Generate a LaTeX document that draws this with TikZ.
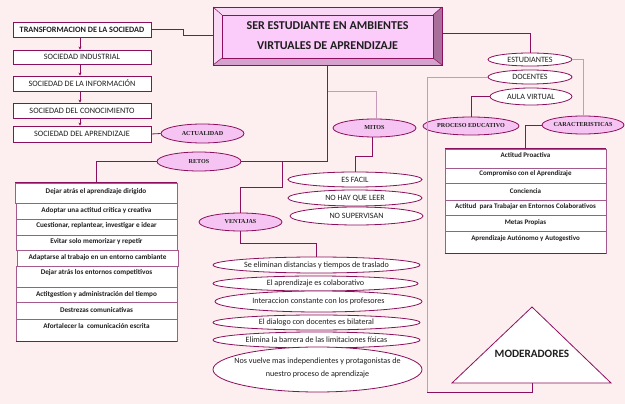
\documentclass[tikz,border=0pt]{standalone}
\usepackage{fontspec}
\setmainfont{Carlito}
\newfontfamily\serifb{Liberation Serif}
\usetikzlibrary{arrows.meta,shapes.geometric}
\definecolor{bg}{HTML}{FDEEF0}
\definecolor{dk}{HTML}{8B0F5C}
\definecolor{md}{HTML}{A45A8C}
\definecolor{lt}{HTML}{C69AB8}
\definecolor{pk}{HTML}{F6C4F2}
\definecolor{face}{HTML}{FBCBF9}
\definecolor{bvtop}{HTML}{F8D8F4}
\definecolor{bvright}{HTML}{A8709A}
\definecolor{bvbot}{HTML}{D4A2CC}
\definecolor{txt}{HTML}{1E1E1E}
\tikzset{
  conn/.style={draw=dk, line width=0.8pt},
  connl/.style={draw=lt, line width=0.8pt},
  sbox/.style={draw=dk, fill=white, line width=0.8pt, rectangle, inner sep=0pt,
    minimum width=138pt, text=txt, font=\fontsize{8.2}{9}\selectfont},
  lbox/.style={draw=md, fill=white, line width=0.7pt, rectangle, inner sep=0pt},
  itemtxt/.style={text=txt, font=\bfseries\fontsize{7.2}{8}\selectfont, inner sep=0pt},
  pell/.style={ellipse, draw=dk, fill=pk, line width=0.8pt, inner sep=0pt},
  pelltxt/.style={text=txt, font=\serifb\bfseries\fontsize{6.1}{7}\selectfont, inner sep=0pt},
  well/.style={ellipse, draw=dk, fill=white, line width=0.8pt, inner sep=0pt},
  welltxt/.style={text=txt, font=\fontsize{8.1}{9}\selectfont, inner sep=0pt, align=center},
  arr/.style={draw=dk, line width=0.8pt, -{Stealth[length=3pt,width=3pt]}}
}
\begin{document}
\begin{tikzpicture}[x=1pt,y=-1pt]
\path[fill=bg,use as bounding box] (0,0) rectangle (625,404);

% ---- title (beveled) ----
\fill[bvtop] (213,7) -- (442,7) -- (433,15) -- (222,15) -- cycle;
\fill[bvtop] (213,7) -- (222,15) -- (222,58) -- (213,65) -- cycle;
\fill[bvright] (442,7) -- (442,65) -- (433,58) -- (433,15) -- cycle;
\fill[bvbot] (213,65) -- (442,65) -- (433,58) -- (222,58) -- cycle;
\draw[dk,line width=0.5pt] (213,7) -- (222,15) (442,7) -- (433,15) (442,65) -- (433,58) (213,65) -- (222,58);
\node[rectangle, fill=face, draw=dk, line width=0.5pt, minimum width=211pt, minimum height=43pt, inner sep=0pt] (face) at (327.5,36.5) {};
\node[rectangle, draw=dk, line width=0.9pt, minimum width=229pt, minimum height=58pt, inner sep=0pt] (title) at (327.5,36) {};
\node[text=txt, font=\bfseries\fontsize{12}{20}\selectfont, align=center, inner sep=0pt] (titletxt) at (327.5,35.5) {SER ESTUDIANTE EN AMBIENTES\\VIRTUALES DE APRENDIZAJE};

% ---- left column ----
\node[sbox, minimum height=15pt, font=\bfseries\fontsize{8.2}{9}\selectfont] (T) at (82,29.5) {TRANSFORMACION DE LA SOCIEDAD};
\node[sbox, minimum height=14pt] (S1) at (82,57) {SOCIEDAD INDUSTRIAL};
\node[sbox, minimum height=15pt] (S2) at (82,83.5) {SOCIEDAD DE LA INFORMACIÓN};
\node[sbox, minimum height=15pt] (S3) at (82,110.5) {SOCIEDAD DEL CONOCIMIENTO};
\node[sbox, minimum height=16pt] (S4) at (82,134) {SOCIEDAD DEL APRENDIZAJE};
\draw[arr] ([xshift=-2pt]T.south) -- ([xshift=-2pt]S1.north);
\draw[arr] ([xshift=-2pt]S1.south) -- ([xshift=-2pt]S2.north);
\draw[arr] ([xshift=-2pt]S2.south) -- ([xshift=-2pt]S3.north);
\draw[arr] ([xshift=-2pt]S3.south) -- ([xshift=-2pt]S4.north);

% ---- pink label ellipses ----
\node[pell, minimum width=83pt, minimum height=19pt] (actualidad) at (202.5,133.5) {};
\node[pelltxt] at (actualidad) {ACTUALIDAD};
\node[pell, minimum width=84pt, minimum height=19pt] (retos) at (199,161.5) {};
\node[pelltxt] at (retos) {RETOS};
\node[pell, minimum width=83pt, minimum height=18pt] (mitos) at (374.5,128) {};
\node[pelltxt] at (mitos) {MITOS};
\node[pell, minimum width=83pt, minimum height=18pt] (ventajas) at (240.5,222) {};
\node[pelltxt] at (ventajas) {VENTAJAS};
\node[pell, minimum width=96pt, minimum height=18pt] (proc) at (471,126) {};
\node[pelltxt] at (proc) {PROCESO EDUCATIVO};
\node[pell, minimum width=82pt, minimum height=18pt] (carac) at (583,125) {};
\node[pelltxt] at (carac) {CARACTERISTICAS};

% ---- retos list ----
\foreach \i/\xa/\xb/\ya/\yb/\ty/\t in {
 1/15/177/183/203/192/{Dejar atrás el aprendizaje dirigido},
 2/16/177/203/219/211/{Adoptar una actitud crítica y creativa},
 3/16/177/219/235/226/{Cuestionar, replantear, investigar e idear},
 4/16/177/235/250/242/{Evitar solo memorizar y repetir},
 5/17/178/250/266/258/{Adaptarse al trabajo en un entorno cambiante},
 6/16/177/266/287/273/{Dejar atrás los entornos competitivos},
 7/16/177/287/302/295/{Actitgestion y administración del tiempo},
 8/16/177/302/319/310/{Destrezas comunicativas},
 9/16/177/319/341/326/{Afortalecer la\ \ comunicación escrita}}{
  \node[lbox, minimum width={\xb-\xa}, minimum height={\yb-\ya}] (r\i) at ({(\xa+\xb)/2},{(\ya+\yb)/2}) {};
  \node[itemtxt] (rt\i) at ({(\xa+\xb)/2},\ty) {\t};
}
\draw[dk,line width=0.8pt] (r1.north west) -- (r1.north east) (r9.south west) -- (r9.south east);

% ---- caracteristicas list ----
\foreach \i/\ya/\yb/\ty/\t in {
 1/149/168/155/{Actitud Proactiva},
 2/168/183/174/{Compromiso con el Aprendizaje},
 3/183/200/191/{Conciencia},
 4/200/215/207/{Actitud\ \ para Trabajar en Entornos Colaborativos},
 5/215/231/223/{Metas Propias},
 6/231/253/239/{Aprendizaje Autónomo y Autogestivo}}{
  \node[lbox, minimum width=161pt, minimum height={\yb-\ya}] (c\i) at (525.5,{(\ya+\yb)/2}) {};
  \node[itemtxt, font=\bfseries\fontsize{7}{8}\selectfont] (ct\i) at (525.5,\ty) {\t};
}
\draw[dk,line width=0.8pt] (c1.north west) -- (c1.north east) (c6.south west) -- (c6.south east);

% ---- mitos list ----
\node[well, minimum width=134pt, minimum height=15pt] (m1) at (355,179.5) {};
\node[welltxt] at (m1) {ES FACIL};
\node[well, minimum width=134pt, minimum height=16pt] (m2) at (355,198) {};
\node[welltxt] at (m2) {NO HAY QUE LEER};
\node[well, minimum width=133pt, minimum height=18pt] (m3) at (356.5,216) {};
\node[welltxt] at (m3) {NO SUPERVISAN};

% ---- ventajas list ----
\node[well, minimum width=207pt, minimum height=16pt] (v1) at (316.5,265) {};
\node[welltxt] at (v1) {Se eliminan distancias y tiempos de traslado};
\node[well, minimum width=205pt, minimum height=15pt] (v2) at (315.5,283.5) {};
\node[welltxt] at (v2) {El aprendizaje es colaborativo};
\node[well, minimum width=207pt, minimum height=21pt] (v3) at (318.5,301.5) {};
\node[welltxt] at (v3) {Interaccion constante con los profesores};
\node[well, minimum width=207pt, minimum height=15pt] (v4) at (316.5,322.5) {};
\node[welltxt] at (v4) {El dialogo con docentes es bilateral};
\node[well, minimum width=207pt, minimum height=16pt] (v5) at (316.5,340) {};
\node[welltxt] at (v5) {Elimina la barrera de las limitaciones físicas};
\node[well, minimum width=209pt, minimum height=45pt] (v6) at (317.5,369.5) {};
\node[welltxt, font=\fontsize{8.1}{12.5}\selectfont] at (317.5,368) {Nos vuelve mas independientes y protagonistas de\\nuestro proceso de aprendizaje};

% ---- right column ----
\node[well, minimum width=84pt, minimum height=13pt] (est) at (530,59.5) {};
\node[welltxt] at (est) {ESTUDIANTES};
\node[well, minimum width=84pt, minimum height=14pt] (doc) at (530,77) {};
\node[welltxt] at (doc) {DOCENTES};
\node[well, minimum width=82pt, minimum height=17pt] (aula) at (531,96.5) {};
\node[welltxt] at (aula) {AULA VIRTUAL};

% ---- moderadores ----
\draw[dk, fill=white, line width=0.8pt] (532,307) -- (452,383) -- (611,383) -- cycle;
\coordinate (modb) at (532,383);
\node[text=txt, font=\bfseries\fontsize{11.2}{12}\selectfont, inner sep=0pt] (mod) at (532,354) {MODERADORES};

% ---- connectors ----
\coordinate (tl) at (183,35);
\draw[conn] (T.east) -| (tl) -- (title.west |- tl);
\coordinate (tr) at (530,33);
\draw[conn] (title.east |- tr) -| (est.north);
\draw[conn] (title.south) |- (retos.east);
\draw[conn] (S4.east) -- (actualidad.west);
\draw[conn] (retos.west) -| (r1.north);
\coordinate (mt) at (327.5,91);
\draw[connl] (mt) -| ([xshift=2pt]mitos.north);
\coordinate (mb) at (372.5,156);
\draw[conn] (mitos.south -| mb) -- (mb) -| (m1.north);
\coordinate (vt) at (282,161);
\coordinate (vm) at (282,187);
\draw[conn] (vt) -- (vm) -| (ventajas.north);
\coordinate (vb) at (240.5,243);
\draw[conn] (ventajas.south) -- (vb) -| (v1.north);
\coordinate (dl) at (427,392);
\draw[connl] (doc.west) -| (dl);
\draw[conn] (dl) -| (modb);
\draw[conn] (aula.west) -| (proc.north);
\draw[connl] (est.east) -| (carac.north);
\draw[conn] (carac.west) -| (c1.north);
\end{tikzpicture}
\end{document}
